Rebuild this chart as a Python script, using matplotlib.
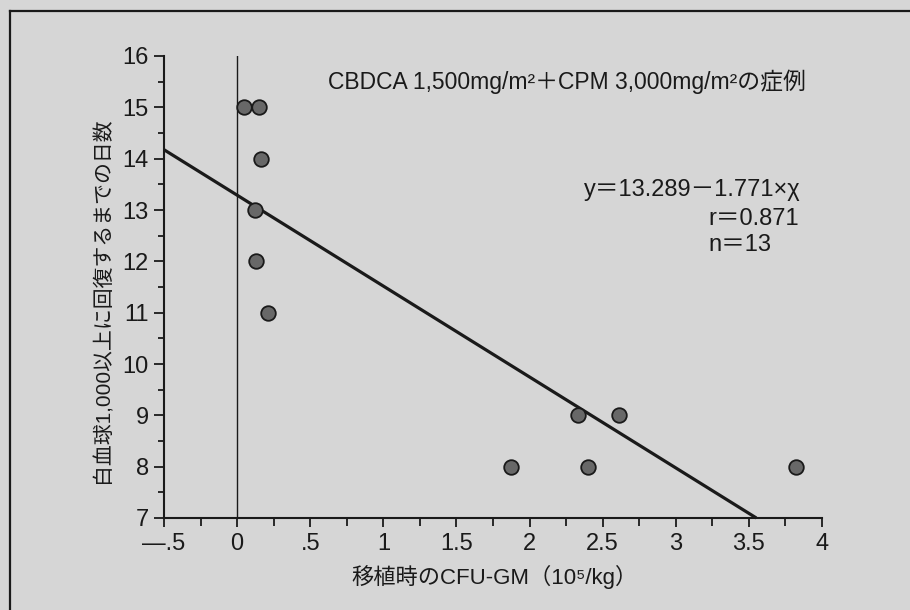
import matplotlib
matplotlib.use("Agg")
import matplotlib.pyplot as plt
from matplotlib.lines import Line2D
from matplotlib.ticker import MultipleLocator

# values
cfu_gm = [0.05, 0.15, 0.16, 0.12, 0.13, 0.21, 1.87, 2.33, 2.40, 2.61, 3.82]
days = [15, 15, 14, 13, 12, 11, 8, 9, 8, 9, 8]
intercept = 13.289
slope = -1.771

x_ticks = [-0.5, 0, 0.5, 1, 1.5, 2, 2.5, 3, 3.5, 4]
x_tick_labels = ["—.5", "0", ".5", "1", "1.5", "2", "2.5", "3", "3.5", "4"]
y_ticks = [7, 8, 9, 10, 11, 12, 13, 14, 15, 16]

title = "CBDCA 1,500mg/m²＋CPM 3,000mg/m²の症例"
equation = "y＝13.289－1.771×χ"
r_text = "r＝0.871"
n_text = "n＝13"
x_label = "移植時のCFU-GM（10⁵/kg）"
y_label = "白血球1,000以上に回復するまでの日数"

GOTHIC = ["Liberation Sans", "Noto Sans CJK JP", "DejaVu Sans"]
plt.rcParams["font.family"] = GOTHIC
INK = "#1a1a1a"

W, H = 910, 610
fig = plt.figure(figsize=(W / 100, H / 100), dpi=100, facecolor="#d6d6d6")
ax = fig.add_axes([164 / W, 1 - 518 / H, (822 - 164) / W, (518 - 56) / H])
ax.set_facecolor("none")

x_lo, x_hi = x_ticks[0], x_ticks[-1]
y_lo, y_hi = y_ticks[0], y_ticks[-1]
ax.set_xlim(x_lo, x_hi)
ax.set_ylim(y_lo, y_hi)

# reference line at x = 0
ax.axvline(0, color=INK, lw=1.0, zorder=1)

# regression line, drawn until it meets the x axis
x_end = (y_lo - intercept) / slope
ax.plot([x_lo, x_end], [intercept + slope * x_lo, y_lo], color=INK, lw=2.3,
        solid_capstyle="butt", zorder=2, clip_on=False)

ax.plot(cfu_gm, days, "o", ms=10.5, mfc="#686868", mec=INK, mew=1.3, zorder=3,
        clip_on=False)

for side in ("top", "right"):
    ax.spines[side].set_visible(False)
for side in ("left", "bottom"):
    ax.spines[side].set_linewidth(1.5)
    ax.spines[side].set_color(INK)

ax.set_xticks(x_ticks)
ax.set_xticklabels(x_tick_labels)
ax.xaxis.set_minor_locator(MultipleLocator(0.25))
ax.set_yticks(y_ticks)
ax.yaxis.set_minor_locator(MultipleLocator(0.5))
ax.tick_params(which="both", direction="out", width=1.3, color=INK,
               labelcolor=INK, labelsize=17)
ax.tick_params(axis="x", which="major", length=6.5, pad=4)
ax.tick_params(axis="x", which="minor", length=5.5)
ax.tick_params(axis="y", which="major", length=7, pad=4)
ax.tick_params(axis="y", which="minor", length=4)

ax.set_xlabel(x_label, fontsize=16, color=INK, va="center")
ax.xaxis.set_label_coords(0.503, -0.128)
ax.set_ylabel(y_label, fontsize=15, color=INK, va="center")
ax.yaxis.set_label_coords(-0.093, 0.472)

ax.text(0.62, 15.5, title, fontsize=16.5, color=INK, ha="left", va="center")
ax.text(2.37, 13.39, equation, fontsize=17, color=INK, ha="left", va="center")
ax.text(3.22, 12.83, r_text, fontsize=17, color=INK, ha="left", va="center")
ax.text(3.22, 12.32, n_text, fontsize=17, color=INK, ha="left", va="center")

# scanned page frame (only top and left edges are visible)
fig.add_artist(Line2D([10 / W, 1], [1 - 11 / H, 1 - 11 / H], color=INK, lw=1.6))
fig.add_artist(Line2D([10 / W, 10 / W], [0, 1 - 11 / H], color=INK, lw=1.6))

fig.savefig("out.png", dpi=100, facecolor=fig.get_facecolor())
